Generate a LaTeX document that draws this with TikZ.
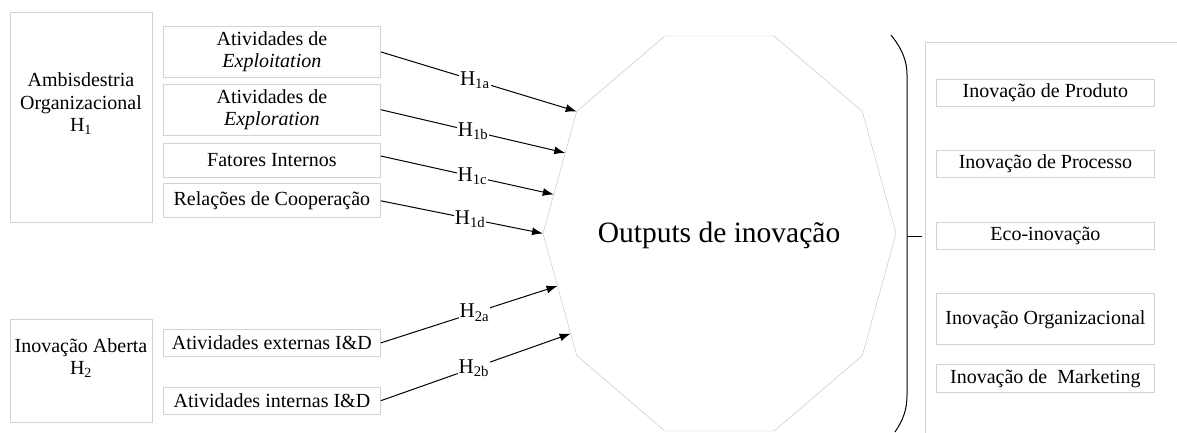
\documentclass[tikz,border=0pt]{standalone}
\usepackage{fontspec}
\setmainfont{Liberation Serif}
\usetikzlibrary{arrows.meta,positioning,calc}

\begin{document}
\begin{tikzpicture}[
  x=1pt, y=-1pt,
  node distance=6pt,
  every node/.style={font=\fontsize{20}{22.5}\selectfont},
  frame/.style={draw=gray!35, line width=0.8pt},
  box/.style={frame, minimum width=217pt, align=center, inner sep=2pt},
  arr/.style={-{Latex[length=11pt,width=8pt]}, line width=1pt},
  hyp/.style={fill=white, inner sep=1pt, font=\fontsize{21}{23}\selectfont}
]
\useasboundingbox (0,0) rectangle (1177,432);
\clip (0,0) rectangle (1177,432);

% left: ambidestria
\node[frame, minimum width=142pt, minimum height=210pt, anchor=north west] (amb) at (10,12) {};
\node[align=center] (ambtxt) at (81,104) {Ambisdestria\\Organizacional\\H\textsubscript{1}};
\node[box, minimum height=51pt, anchor=north west] (exploit) at (163,26) {Atividades de\\\textit{Exploitation}};
\node[box, minimum height=51pt, below=of exploit] (explor) {Atividades de\\\textit{Exploration}};
\node[box, minimum height=34pt, below=7pt of explor] (fatores) {Fatores Internos};
\node[box, minimum height=34pt, below=of fatores] (coop) {Relações de Cooperação};

% left: inovacao aberta
\node[frame, minimum width=142pt, minimum height=103pt, anchor=north west] (aberta) at (10,319) {};
\node[align=center] (abertatxt) at (81,358) {Inovação Aberta\\H\textsubscript{2}};
\node[box, minimum height=27pt, anchor=north west] (ext) at (163,329) {Atividades externas I\&D};
\node[box, minimum height=27pt, below=30pt of ext] (int) {Atividades internas I\&D};

% outputs
\foreach \i in {0,...,9}
  \coordinate (d\i) at ({719.5+176.5*cos(36*\i)},{233.5-207.7*sin(36*\i)});
\draw[draw=gray!50] (d0) \foreach \i in {1,...,9}{ -- (d\i)} -- cycle;
\node[font=\fontsize{29.5}{32}\selectfont] (outputs) at (719,235) {Outputs de inovação};

\draw[arr] (exploit.east) -- node[hyp, pos=0.48] {H\textsubscript{1a}} (d4);
\draw[arr] (explor.east) -- node[hyp, pos=0.5] {H\textsubscript{1b}} ($(d4)!0.34!(d5)$);
\draw[arr] ([yshift=4pt]fatores.east) -- node[hyp, pos=0.53] {H\textsubscript{1c}} ($(d4)!0.68!(d5)$);
\draw[arr] (coop.east) -- node[hyp, pos=0.55] {H\textsubscript{1d}} (d5);
\draw[arr] (ext.east) -- node[hyp, pos=0.53] {H\textsubscript{2a}} ($(d5)!0.43!(d6)$);
\draw[arr] (int.east) -- node[hyp, pos=0.49] {H\textsubscript{2b}} ($(d5)!0.82!(d6)$);

% brace
\draw[line width=1pt] (891,35) .. controls (903,50) and (907,62) .. (907,75) -- (907,395) .. controls (907,410) and (903,420) .. (895,432);
\draw[line width=1pt] (907,236) -- (922,236);

% right: types of innovation
\node[frame, minimum width=280pt, minimum height=420pt, anchor=north west] (outframe) at (925,42) {};
\node[box, minimum width=218pt, minimum height=27pt, anchor=north west] (produto) at (936,79) {Inovação de Produto};
\node[box, minimum width=218pt, minimum height=27pt, below=43pt of produto] (processo) {Inovação de Processo};
\node[box, minimum width=218pt, minimum height=27pt, below=44pt of processo] (eco) {Eco-inovação};
\node[box, minimum width=218pt, minimum height=51pt, below=44pt of eco] (org) {Inovação Organizacional};
\node[box, minimum width=218pt, minimum height=28pt, below=19pt of org] (mkt) {Inovação de\ \ Marketing};
\end{tikzpicture}
\end{document}
